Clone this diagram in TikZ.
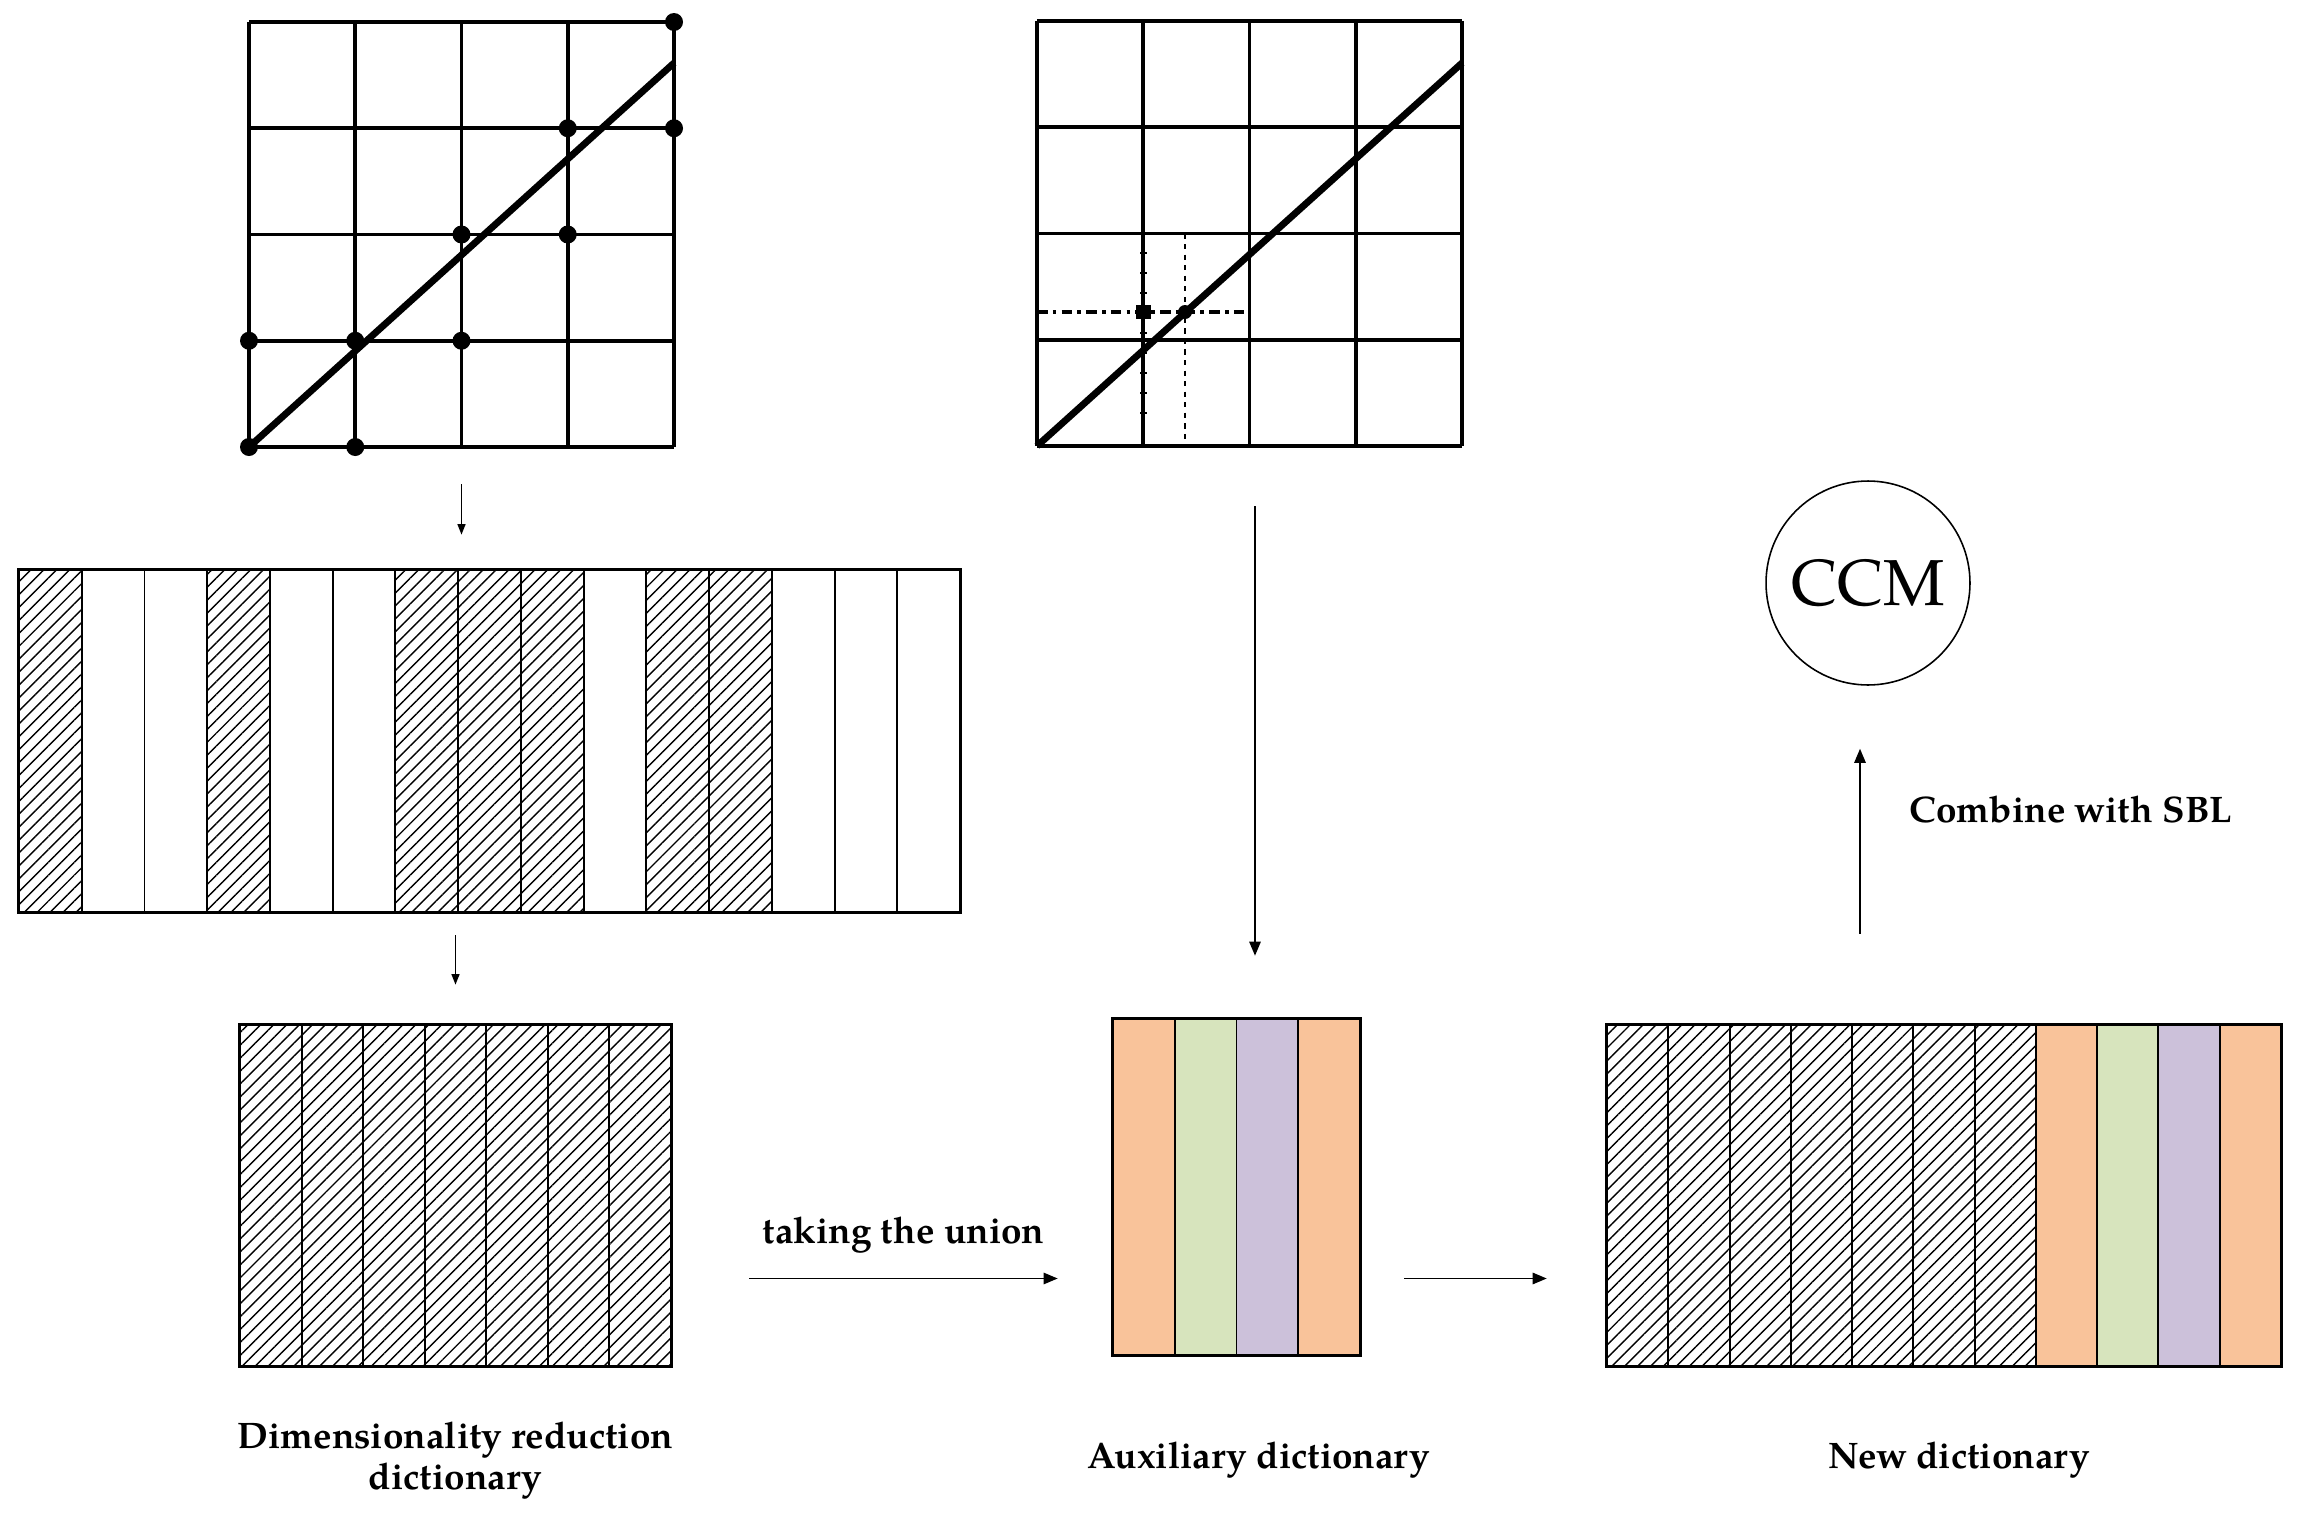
\documentclass[tikz,border=0pt]{standalone}
\usepackage{fontspec}
\setmainfont{TeX Gyre Pagella}
\usepackage{tikz}
\usetikzlibrary{positioning, calc, patterns.meta, arrows.meta}

\definecolor{auxorange}{HTML}{F9C39A}
\definecolor{auxgreen}{HTML}{D7E4BD}
\definecolor{auxpurple}{HTML}{CCC1DA}

\begin{document}
\begin{tikzpicture}[x=0.02cm, y=-0.02cm]
        \tikzstyle{gridline}=[line width=2.1pt];
        \tikzstyle{diag}=[line width=3.9pt];
        \tikzstyle{frame}=[draw=none, rectangle, inner sep=0pt];
        \tikzstyle{col}=[line width=1.1pt];
        \tikzstyle{border}=[line width=1.5pt];
        \tikzstyle{hatch}=[pattern={Lines[angle=45, distance=5.2pt, line width=0.8pt]}];
        \tikzstyle{lbl}=[font=\bfseries\fontsize{21}{23.5}\selectfont, align=center, inner sep=0pt];
        \tikzstyle{arr}=[-{Triangle[length=8pt, width=6.5pt]}, line width=0.9pt];
        \tikzstyle{sarr}=[-{Triangle[length=6pt, width=4.5pt]}, line width=0.9pt];
        \useasboundingbox (0,0) rectangle (2299,1518);

        % left grid
        \node[frame, minimum size=8.5cm] (grid1) at (461.5,234.5) {};
        \foreach \i in {0,...,4} {
          \draw[gridline] (249+106.25*\i,22) -- (249+106.25*\i,447);
          \draw[gridline] (249,22+106.25*\i) -- (674,22+106.25*\i);
        }
        \draw[diag] (249,447) -- (674,63);
        \foreach \p in {(674,22),(567.75,128.25),(674,128.25),(461.5,234.5),(567.75,234.5),
                        (249,340.75),(355.25,340.75),(461.5,340.75),(249,447),(355.25,447)}
          \fill \p circle[radius=9];

        % right grid
        \node[frame, minimum size=8.5cm] (grid2) at (1249.5,233.5) {};
        \foreach \i in {0,...,4} {
          \draw[gridline] (1037+106.25*\i,21) -- (1037+106.25*\i,446);
          \draw[gridline] (1037,21+106.25*\i) -- (1462,21+106.25*\i);
        }
        \draw[line width=1.6pt, dashed] (1185,233.5) -- (1185,446);
        \draw[line width=1.8pt, dash pattern=on 6pt off 3pt on 2pt off 3pt] (1037,312) -- (1249.5,312);
        \draw[line width=4pt, dash pattern=on 1pt off 10.4pt] (1143.25,252) -- (1143.25,430);
        \draw[diag] (1037,446) -- (1462,63);
        \fill (1136,305) rectangle (1150.5,319);
        \fill (1185,312) circle[radius=7];

        % selected columns
        \foreach \c in {0,3,6,7,8,10,11}
          \fill[hatch] (19+62.733*\c,570) rectangle ++(62.733,342);
        \foreach \c in {1,...,14}
          \draw[col] (19+62.733*\c,570) -- ++(0,342);
        \node[frame, minimum width=18.82cm, minimum height=6.84cm] (sel) at (489.5,741) {};
        \draw[border] (sel.north west) rectangle (sel.south east);

        % dimensionality reduction dictionary
        \foreach \c in {0,...,6}
          \fill[hatch] (240+61.57*\c,1025) rectangle ++(61.57,341);
        \foreach \c in {1,...,6}
          \draw[col] (240+61.57*\c,1025) -- ++(0,341);
        \node[frame, minimum width=8.62cm, minimum height=6.82cm] (dimred) at (455.5,1195.5) {};
        \draw[border] (dimred.north west) rectangle (dimred.south east);

        % auxiliary dictionary
        \foreach \c/\f in {0/auxorange,1/auxgreen,2/auxpurple,3/auxorange}
          \filldraw[fill=\f, col] (1113+61.75*\c,1019) rectangle ++(61.75,336);
        \node[frame, minimum width=4.94cm, minimum height=6.72cm] (aux) at (1236.5,1187) {};
        \draw[border] (aux.north west) rectangle (aux.south east);

        % new dictionary
        \foreach \c in {0,...,6}
          \fill[hatch] (1607+61.27*\c,1025) rectangle ++(61.27,341);
        \foreach \c/\f in {7/auxorange,8/auxgreen,9/auxpurple,10/auxorange}
          \filldraw[fill=\f, col] (1607+61.27*\c,1025) rectangle ++(61.27,341);
        \foreach \c in {1,...,6}
          \draw[col] (1607+61.27*\c,1025) -- ++(0,341);
        \node[frame, minimum width=13.48cm, minimum height=6.82cm] (newdict) at (1944,1195.5) {};
        \draw[border] (newdict.north west) rectangle (newdict.south east);

        \node[draw, circle, line width=0.9pt, minimum size=4.08cm, inner sep=0pt,
              font=\fontsize{37}{40}\selectfont] (ccm) at (1868,583) {CCM};

        % labels
        \node[lbl, below=1.1cm of dimred] (dimlbl) {Dimensionality reduction\\dictionary};
        \node[lbl, below=1.72cm of aux, xshift=0.44cm] (auxlbl) {Auxiliary dictionary};
        \node[lbl, below=1.5cm of newdict, xshift=0.3cm] (newlbl) {New dictionary};

        % arrows
        \draw[sarr, shorten <=0.74cm, shorten >=0.7cm] (grid1.south) -- (grid1.south |- sel.north);
        \draw[sarr, shorten <=0.46cm, shorten >=0.8cm] (sel.south -| dimred) -- (dimred.north);
        \draw[arr, shorten <=1.2cm, shorten >=1.26cm] ([xshift=0.11cm]grid2.south) -- ([xshift=0.11cm]grid2.south |- aux.north);
        \draw[arr] ([xshift=1.56cm,yshift=-1.66cm]dimred.east) -- ([xshift=-1.1cm,yshift=-1.66cm]dimred.east -| aux.west)
          node[lbl, midway, above=0.48cm] (union) {taking the union};
        \draw[arr] ([xshift=0.88cm,yshift=-1.66cm]dimred.east -| aux.east) -- ([xshift=-1.2cm,yshift=-1.66cm]dimred.east -| newdict.west);
        \draw[arr, shorten <=1.82cm, shorten >=1.26cm] ([xshift=-0.16cm]ccm.south |- newdict.north) -- ([xshift=-0.16cm]ccm.south)
          node[lbl, pos=0.635, anchor=west, xshift=0.98cm] (sbl) {Combine with SBL};
\end{tikzpicture}
\end{document}
